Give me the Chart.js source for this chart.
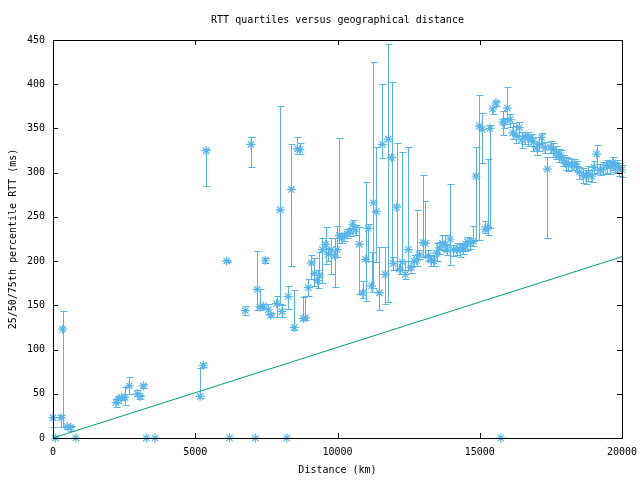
<!DOCTYPE html>
<html>
<head>
<meta charset="utf-8">
<script src="https://cdn.jsdelivr.net/npm/chart.js@4.4.1/dist/chart.umd.min.js"></script>
<style>
  html, body { margin: 0; padding: 0; background: #fff; }
  #wrap { width: 640px; height: 480px; }
</style>
</head>
<body>
<div id="wrap"><canvas id="rttChart" width="640" height="480"></canvas></div>
<script>
// distance (km) and 25/50/75th percentile RTT (ms)
const distKm = [0, 80, 280, 340, 500, 620, 800, 2215, 2300, 2410,
  2530, 2680, 2965, 3060, 3175, 3280, 3585, 5170, 5285, 5380,
  6105, 6205, 6760, 6960, 7110, 7180, 7275, 7390, 7460, 7570,
  7660, 7860, 7990, 8050, 8220, 8270, 8380, 8480, 8590, 8680,
  8800, 8870, 8975, 9080, 9185, 9300, 9360, 9470, 9585, 9680,
  9780, 9900, 9990, 10060, 10150, 10240, 10345, 10440, 10535, 10640,
  10770, 10885, 10990, 11085, 11200, 11260, 11360, 11470, 11575, 11675,
  11785, 11900, 11965, 12080, 12180, 12280, 12385, 12490, 12585, 12700,
  12780, 12875, 13010, 13090, 13190, 13285, 13380, 13485, 13580, 13690,
  13785, 13850, 13955, 14070, 14190, 14305, 14400, 14480, 14565, 14660,
  14775, 14870, 14985, 15090, 15185, 15280, 15360, 15455, 15570, 15740,
  15805, 15865, 15970, 16065, 16160, 16275, 16390, 16475, 16590, 16685,
  16790, 16885, 17000, 17095, 17175, 17295, 17375, 17495, 17585, 17680,
  17775, 17855, 17935, 18030, 18110, 18230, 18325, 18405, 18500, 18620,
  18735, 18815, 18935, 19015, 19110, 19225, 19345, 19460, 19580, 19675,
  19755, 19835, 19905, 19990];

const rttMedian = [23, 0, 23, 123, 13, 12, 0, 40, 44, 46,
  46, 59, 50, 47, 59, 0, 0, 47, 82, 325,
  200, 0, 144, 332, 0, 168, 148, 149, 201, 145,
  139, 152, 258, 143, 0, 160, 281, 125, 327, 326,
  135, 136, 170, 198, 186, 178, 184, 213, 219, 208,
  213, 206, 213, 229, 226, 228, 231, 233, 241, 236,
  219, 164, 202, 237, 172, 266, 256, 164, 332, 185,
  338, 317, 197, 261, 191, 199, 185, 213, 193, 200,
  201, 207, 221, 220, 206, 201, 200, 209, 215, 220,
  219, 213, 225, 213, 213, 213, 215, 217, 222, 220,
  222, 296, 353, 349, 236, 238, 350, 372, 379, 0,
  357, 357, 373, 360, 345, 342, 351, 337, 341, 339,
  339, 335, 328, 332, 340, 328, 304, 329, 326, 322,
  319, 319, 314, 310, 309, 309, 310, 307, 301, 297,
  296, 299, 296, 306, 321, 303, 304, 308, 307, 311,
  308, 307, 305, 303];

const rttLow = [13, 0, 13, 13, 10, 8, 0, 35, 40, 43,
  37, 50, 47, 44, 56, 0, 0, 45, 80, 285,
  199, 0, 139, 306, 0, 145, 145, 147, 198, 140,
  137, 137, 152, 137, 0, 146, 194, 122, 321, 321,
  133, 133, 160, 180, 172, 170, 175, 175, 197, 200,
  185, 171, 205, 220, 220, 223, 226, 228, 232, 230,
  163, 158, 155, 200, 165, 170, 199, 145, 317, 152,
  154, 198, 190, 190, 185, 190, 180, 190, 186, 195,
  195, 202, 205, 206, 200, 195, 195, 200, 208, 213,
  211, 207, 196, 206, 207, 205, 208, 211, 213, 214,
  217, 224, 224, 311, 232, 230, 237, 366, 375, 0,
  343, 350, 355, 352, 338, 333, 341, 328, 332, 330,
  330, 324, 320, 325, 333, 322, 226, 322, 318, 315,
  312, 312, 307, 303, 302, 303, 303, 301, 293, 288,
  287, 291, 290, 298, 300, 297, 298, 300, 299, 303,
  301, 300, 296, 295];

const rttHigh = [24, 0, 26, 144, 15, 14, 0, 44, 47, 48,
  58, 69, 54, 49, 61, 0, 0, 79, 85, 327,
  201, 0, 149, 340, 0, 211, 168, 151, 204, 152,
  141, 160, 375, 150, 0, 172, 332, 167, 340, 333,
  159, 160, 180, 207, 203, 190, 210, 226, 239, 215,
  226, 226, 240, 339, 232, 232, 236, 238, 246, 241,
  239, 178, 289, 242, 210, 425, 329, 216, 400, 216,
  446, 403, 205, 334, 200, 323, 200, 329, 200, 207,
  258, 212, 297, 268, 212, 207, 206, 221, 222, 229,
  229, 218, 287, 218, 220, 219, 220, 223, 227, 226,
  240, 329, 388, 367, 245, 315, 354, 374, 381, 0,
  370, 362, 397, 366, 356, 353, 357, 346, 346, 346,
  344, 340, 333, 340, 345, 335, 318, 336, 333, 330,
  327, 326, 320, 318, 317, 315, 316, 313, 306, 305,
  303, 307, 303, 313, 331, 310, 312, 314, 313, 318,
  312, 314, 311, 309];

// lower bound line (speed of light in fibre)
const boundDist = [0, 20000];
const boundRtt = [0, 205];

const xTicks = [0, 5000, 10000, 15000, 20000];
const yTicks = [0, 50, 100, 150, 200, 250, 300, 350, 400, 450];

const BLUE = '#56b4e9';
const GREEN = '#009e73';
const FONT = { family: '"DejaVu Sans Mono", "Liberation Mono", monospace', size: 10, lineHeight: 1.2 };

// error bars below the points, frame + inward ticks on top
const gnuplotFrame = {
    id: 'gnuplotFrame',
    beforeDatasetsDraw(chart) {
        const { ctx, scales: { x, y } } = chart;
        ctx.save();
        ctx.strokeStyle = BLUE;
        ctx.lineWidth = 1;
        ctx.beginPath();
        for (let i = 0; i < distKm.length; i++) {
            if (rttHigh[i] - rttLow[i] <= 0) continue;
            const px = Math.round(x.getPixelForValue(distKm[i])) + 0.5;
            const lo = Math.round(y.getPixelForValue(rttLow[i])) + 0.5;
            const hi = Math.round(y.getPixelForValue(rttHigh[i])) + 0.5;
            ctx.moveTo(px, lo);
            ctx.lineTo(px, hi);
            ctx.moveTo(px - 3, lo);
            ctx.lineTo(px + 4, lo);
            ctx.moveTo(px - 3, hi);
            ctx.lineTo(px + 4, hi);
        }
        ctx.stroke();
        ctx.restore();
    },
    afterDraw(chart) {
        const { ctx, chartArea: a, scales: { x, y } } = chart;
        const tick = 5;
        ctx.save();
        ctx.strokeStyle = '#000';
        ctx.lineWidth = 1;
        ctx.beginPath();
        xTicks.forEach(v => {
            const px = Math.round(x.getPixelForValue(v)) + 0.5;
            ctx.moveTo(px, a.bottom);
            ctx.lineTo(px, a.bottom - tick);
            ctx.moveTo(px, a.top);
            ctx.lineTo(px, a.top + tick);
        });
        yTicks.forEach(v => {
            const py = Math.round(y.getPixelForValue(v)) + 0.5;
            ctx.moveTo(a.left, py);
            ctx.lineTo(a.left + tick, py);
            ctx.moveTo(a.right, py);
            ctx.lineTo(a.right - tick, py);
        });
        ctx.stroke();
        ctx.strokeRect(Math.round(a.left) + 0.5, Math.round(a.top) + 0.5,
            Math.round(a.right - a.left), Math.round(a.bottom - a.top));
        ctx.restore();
    }
};

const ctx = document.getElementById('rttChart');
new Chart(ctx, {
    type: 'scatter',
    data: {
        datasets: [
            {
                type: 'line',
                data: boundDist.map((d, i) => ({ x: d, y: boundRtt[i] })),
                borderColor: GREEN,
                borderWidth: 1,
                pointRadius: 0,
                fill: false,
                tension: 0
            },
            {
                data: distKm.map((d, i) => ({ x: d, y: rttMedian[i] })),
                pointStyle: 'star',
                pointRadius: 4.5,
                borderColor: BLUE,
                backgroundColor: BLUE,
                borderWidth: 1.2,
                clip: false
            }
        ]
    },
    options: {
        responsive: false,
        animation: false,
        events: [],
        layout: { padding: { left: 0, right: 18, top: 0, bottom: 0 } },
        plugins: {
            legend: { display: false },
            tooltip: { enabled: false },
            title: {
                display: true,
                fullSize: false,
                text: 'RTT quartiles versus geographical distance',
                color: '#000',
                font: Object.assign({}, FONT, { weight: 'normal' }),
                padding: { top: 14, bottom: 14 }
            }
        },
        scales: {
            x: {
                type: 'linear',
                min: 0,
                max: 20000,
                afterBuildTicks: s => { s.ticks = xTicks.map(v => ({ value: v })); },
                afterFit: s => { s.height = 42; s.paddingLeft = 0; s.paddingRight = 0; },
                grid: { display: false, drawTicks: false },
                border: { display: false },
                ticks: { color: '#000', font: FONT, padding: 8, maxRotation: 0, autoSkip: false, callback: v => String(v) },
                title: { display: true, text: 'Distance (km)', color: '#000', font: FONT, padding: { top: 0, bottom: 4 } }
            },
            y: {
                type: 'linear',
                min: 0,
                max: 450,
                afterBuildTicks: s => { s.ticks = yTicks.map(v => ({ value: v })); },
                afterFit: s => { s.width = 53; s.paddingTop = 0; s.paddingBottom = 0; },
                grid: { display: false, drawTicks: false },
                border: { display: false },
                ticks: { color: '#000', font: FONT, padding: 8, autoSkip: false, callback: v => String(v) },
                title: { display: true, text: '25/50/75th percentile RTT (ms)', color: '#000', font: FONT, padding: { top: 7, bottom: 0 } }
            }
        }
    },
    plugins: [gnuplotFrame]
});
</script>
</body>
</html>
